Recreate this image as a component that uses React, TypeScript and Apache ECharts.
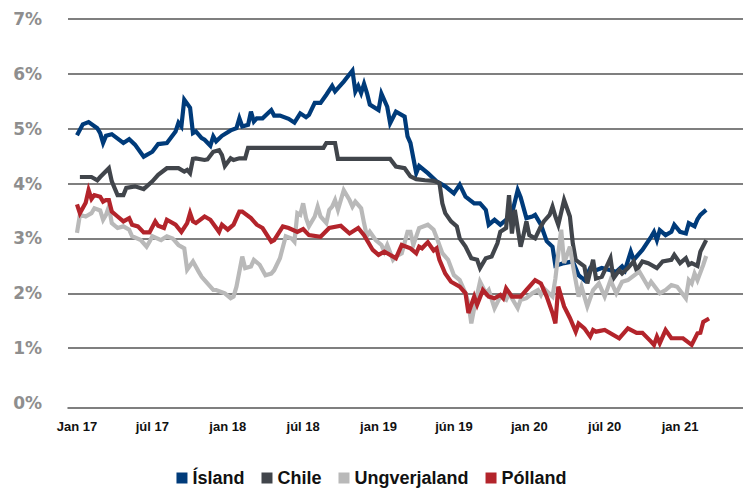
import React, { useEffect, useRef } from "react";
import * as echarts from "echarts";

// x = week index counted from the first week of January 2017
const tickWeeks = [0, 26, 52, 78, 104, 130, 156, 182, 208];
const tickLabels = ["Jan 17", "júl 17", "jan 18", "júl 18", "jan 19", "jún 19", "jan 20", "júl 20", "jan 21"];
const yTicks = [0, 1, 2, 3, 4, 5, 6, 7];

const seriesNames = ["Ísland", "Chile", "Ungverjaland", "Pólland"];
const seriesColors = ["#003b7a", "#41454b", "#b9b9b9", "#b3242b"];

const island: [number, number][] = [
  [0, 4.88], [2, 5.08], [4, 5.12], [7, 5.01], [8, 4.92], [9, 4.74], [10, 4.87], [12, 4.9], [16, 4.74], [18, 4.81],
  [20, 4.71], [23, 4.49], [26, 4.58], [28, 4.72], [31, 4.74], [34, 4.95], [35, 5.11], [36, 5.04], [37, 5.53], [39, 5.38],
  [40, 4.92], [41, 4.95], [43, 4.83], [44, 4.8], [46, 4.69], [47, 4.86], [48, 4.77], [50, 4.87], [53, 4.97], [55, 5.01],
  [56, 5.19], [57, 5.04], [59, 5.07], [60, 5.31], [61, 5.13], [62, 5.19], [64, 5.19], [67, 5.34], [68, 5.24], [70, 5.24],
  [73, 5.18], [75, 5.11], [77, 5.28], [79, 5.21], [80, 5.25], [82, 5.47], [84, 5.47], [86, 5.62], [88, 5.78], [89, 5.68],
  [92, 5.86], [95, 6.06], [96, 5.68], [97, 5.78], [98, 5.65], [99, 5.82], [100, 5.65], [101, 5.44], [104, 5.34], [105, 5.64],
  [107, 5.4], [108, 5.1], [110, 5.31], [113, 5.22], [114, 4.86], [115, 4.74], [117, 4.19], [118, 4.32], [121, 4.19], [124, 4.04],
  [127, 3.95], [130, 3.82], [132, 3.98], [134, 3.76], [137, 3.64], [139, 3.64], [141, 3.52], [142, 3.25], [144, 3.34], [146, 3.25],
  [148, 3.34], [150, 3.45], [152, 3.88], [153, 3.75], [155, 3.37], [157, 3.4], [158, 3.43], [160, 3.25], [161, 3.1], [162, 2.95],
  [164, 2.85], [165, 2.5], [168, 2.55], [171, 2.58], [173, 2.33], [175, 2.24], [177, 2.46], [179, 2.42], [181, 2.46], [184, 2.42],
  [186, 2.39], [188, 2.49], [189, 2.42], [191, 2.76], [192, 2.61], [195, 2.79], [198, 3.03], [199, 3.12], [200, 2.97], [201, 3.15],
  [203, 3.06], [205, 3.12], [206, 3.25], [208, 3.12], [210, 3.09], [211, 3.28], [213, 3.22], [214, 3.35], [215, 3.43], [217, 3.52],
];

const chile: [number, number][] = [
  [1, 4.12], [5, 4.12], [7, 4.06], [8, 4.12], [11, 4.28], [12, 4.04], [14, 3.79], [16, 3.79], [17, 3.92], [20, 3.95],
  [23, 3.9], [26, 4.04], [28, 4.16], [31, 4.28], [35, 4.28], [37, 4.22], [38, 4.25], [39, 4.19], [40, 4.45], [41, 4.46],
  [44, 4.43], [45, 4.44], [47, 4.58], [49, 4.61], [50, 4.52], [51, 4.32], [53, 4.46], [54, 4.43], [56, 4.46], [58, 4.46],
  [59, 4.65], [85, 4.65], [86, 4.74], [89, 4.74], [90, 4.45], [108, 4.45], [110, 4.31], [113, 4.28], [115, 4.13], [117, 4.08],
  [120, 4.06], [123, 4.05], [125, 4.01], [126, 3.64], [127, 3.46], [129, 3.31], [131, 3.22], [132, 3.0], [134, 2.85], [136, 2.64],
  [138, 2.61], [139, 2.46], [141, 2.64], [143, 2.67], [145, 2.91], [146, 3.12], [148, 3.19], [149, 3.79], [150, 3.09], [151, 3.52],
  [153, 2.85], [154, 3.06], [155, 3.31], [156, 3.06], [158, 3.0], [160, 3.22], [161, 3.31], [163, 3.43], [164, 3.58], [165, 3.4],
  [166, 3.25], [168, 3.7], [170, 3.4], [171, 2.91], [172, 2.61], [175, 2.49], [176, 2.18], [178, 2.61], [179, 2.27], [181, 2.3],
  [184, 2.64], [185, 2.27], [187, 2.42], [188, 2.36], [190, 2.46], [192, 2.58], [193, 2.42], [195, 2.58], [197, 2.55], [200, 2.46],
  [202, 2.58], [205, 2.61], [206, 2.7], [208, 2.55], [210, 2.64], [211, 2.52], [212, 2.55], [214, 2.5], [215, 2.76], [217, 2.97],
];

const ungverjaland: [number, number][] = [
  [0, 3.1], [1, 3.43], [3, 3.4], [5, 3.46], [6, 3.55], [8, 3.51], [9, 3.34], [10, 3.43], [11, 3.58], [12, 3.28],
  [14, 3.19], [16, 3.22], [18, 3.16], [19, 3.04], [22, 2.97], [24, 2.85], [25, 2.94], [26, 3.04], [29, 2.97], [31, 3.04],
  [33, 3.0], [35, 2.88], [37, 2.82], [38, 2.43], [40, 2.58], [42, 2.39], [43, 2.3], [45, 2.18], [47, 2.06], [48, 2.06],
  [51, 2.0], [53, 1.91], [54, 1.94], [55, 2.12], [57, 2.67], [58, 2.46], [60, 2.49], [61, 2.61], [63, 2.52], [65, 2.33],
  [67, 2.36], [68, 2.42], [70, 2.64], [72, 3.04], [74, 3.0], [75, 2.94], [76, 3.46], [77, 3.43], [78, 3.64], [79, 3.37],
  [80, 3.22], [82, 3.4], [83, 3.58], [84, 3.4], [86, 3.28], [87, 3.52], [88, 3.58], [89, 3.7], [90, 3.52], [92, 3.88],
  [94, 3.7], [95, 3.58], [96, 3.67], [98, 3.55], [99, 3.28], [100, 3.04], [101, 3.12], [103, 2.97], [105, 2.88], [106, 2.76],
  [107, 2.88], [109, 2.61], [110, 2.67], [112, 2.73], [114, 3.12], [115, 3.12], [116, 2.88], [118, 3.19], [121, 3.25], [123, 3.16],
  [124, 3.02], [126, 2.73], [128, 2.61], [130, 2.33], [132, 2.24], [134, 2.0], [135, 1.82], [136, 1.45], [137, 1.73], [139, 2.21],
  [141, 2.0], [142, 2.06], [144, 1.73], [146, 1.94], [148, 1.88], [149, 2.0], [152, 1.73], [153, 1.88], [155, 1.91], [157, 2.0],
  [159, 2.06], [160, 1.97], [161, 2.09], [164, 1.94], [165, 2.27], [166, 2.73], [167, 3.16], [168, 2.55], [170, 2.85], [171, 2.52],
  [173, 1.94], [174, 2.12], [176, 1.76], [178, 2.06], [180, 2.18], [182, 1.94], [184, 2.24], [186, 2.0], [188, 2.21], [190, 2.24],
  [193, 2.36], [194, 2.39], [197, 2.12], [198, 2.21], [201, 2.0], [203, 2.06], [205, 2.15], [207, 2.12], [210, 1.91], [211, 2.24],
  [212, 2.18], [213, 2.36], [214, 2.24], [216, 2.52], [217, 2.68],
];

const polland: [number, number][] = [
  [0, 3.62], [1, 3.46], [3, 3.65], [4, 3.88], [5, 3.72], [6, 3.79], [8, 3.76], [9, 3.67], [10, 3.7], [11, 3.7],
  [12, 3.49], [14, 3.4], [16, 3.31], [18, 3.37], [19, 3.25], [21, 3.22], [23, 3.11], [25, 3.11], [27, 3.31], [28, 3.23],
  [30, 3.19], [31, 3.34], [34, 3.25], [36, 3.12], [38, 3.28], [39, 3.46], [40, 3.31], [41, 3.28], [44, 3.4], [46, 3.34],
  [49, 3.12], [50, 3.25], [52, 3.16], [54, 3.25], [56, 3.49], [57, 3.49], [60, 3.37], [62, 3.25], [64, 3.19], [67, 2.94],
  [68, 2.97], [71, 3.22], [73, 3.19], [76, 3.12], [78, 3.17], [80, 3.06], [84, 3.03], [87, 3.19], [91, 3.23], [94, 3.09],
  [97, 3.19], [99, 3.06], [102, 2.79], [104, 2.7], [106, 2.76], [110, 2.64], [112, 2.88], [115, 2.82], [117, 2.73], [118, 2.85],
  [119, 2.82], [121, 2.93], [123, 2.78], [124, 2.82], [125, 2.61], [127, 2.36], [129, 2.21], [132, 2.12], [134, 2.0], [135, 1.64],
  [137, 1.94], [138, 1.79], [140, 2.06], [142, 1.94], [144, 1.91], [146, 1.97], [147, 1.91], [148, 2.09], [150, 1.94], [153, 1.94],
  [155, 2.06], [158, 2.24], [160, 2.18], [162, 1.94], [164, 1.64], [165, 1.45], [166, 2.12], [168, 1.76], [170, 1.55], [172, 1.3],
  [173, 1.45], [175, 1.36], [177, 1.21], [178, 1.33], [179, 1.3], [182, 1.33], [187, 1.18], [190, 1.36], [193, 1.28], [195, 1.28],
  [198, 1.12], [199, 1.06], [200, 1.21], [201, 1.09], [203, 1.33], [205, 1.18], [209, 1.18], [212, 1.06], [214, 1.27], [215, 1.28],
  [216, 1.48], [218, 1.54],
];

const seriesData = [island, chile, ungverjaland, polland];

export default function App() {
  const ref = useRef<HTMLDivElement>(null);

  useEffect(() => {
    document.body.style.margin = "0";
    if (!ref.current) return;
    const chart = echarts.init(ref.current, undefined, { renderer: "svg" });
    chart.setOption({
      animation: false,
      backgroundColor: "#ffffff",
      grid: { left: 68, right: 0, top: 19, bottom: 87, containLabel: false },
      legend: {
        data: seriesNames,
        left: "center",
        top: 462,
        icon: "rect",
        itemWidth: 11,
        itemHeight: 11,
        itemGap: 17,
        textStyle: {
          fontSize: 18,
          lineHeight: 22,
          fontWeight: "bold",
          color: "#111",
          fontFamily: "Liberation Sans, Arial, sans-serif",
        },
      },
      xAxis: {
        type: "value",
        min: -3.1,
        max: 229.7,
        offset: 5,
        axisLine: { show: true, onZero: false, lineStyle: { color: "#555", width: 1.5 } },
        axisTick: { show: false, customValues: tickWeeks },
        splitLine: { show: false },
        axisLabel: {
          customValues: tickWeeks,
          margin: 12,
          fontSize: 13,
          fontWeight: "bold",
          color: "#111",
          fontFamily: "Liberation Sans, Arial, sans-serif",
          formatter: (v: number) => {
            const i = tickWeeks.indexOf(Math.round(v));
            return i >= 0 ? tickLabels[i] : "";
          },
        },
      },
      yAxis: {
        type: "value",
        min: yTicks[0],
        max: yTicks[yTicks.length - 1],
        interval: 1,
        axisLine: { show: false },
        axisTick: { show: false },
        splitLine: { show: true, showMinLine: false, lineStyle: { color: "#555", width: 1.5 } },
        axisLabel: {
          formatter: "{value}%",
          margin: 26,
          fontSize: 17,
          fontWeight: "bold",
          color: "#8e8e8e",
          fontFamily: "DejaVu Sans, Verdana, sans-serif",
        },
      },
      series: seriesNames.map((name, i) => ({
        name,
        type: "line",
        data: seriesData[i],
        showSymbol: false,
        symbol: "none",
        color: seriesColors[i],
        lineStyle: { width: 4.2, color: seriesColors[i], join: "miter" },
        z: 2 + i,
      })),
    });
    return () => chart.dispose();
  }, []);

  return <div ref={ref} style={{ width: 743, height: 490 }} />;
}
